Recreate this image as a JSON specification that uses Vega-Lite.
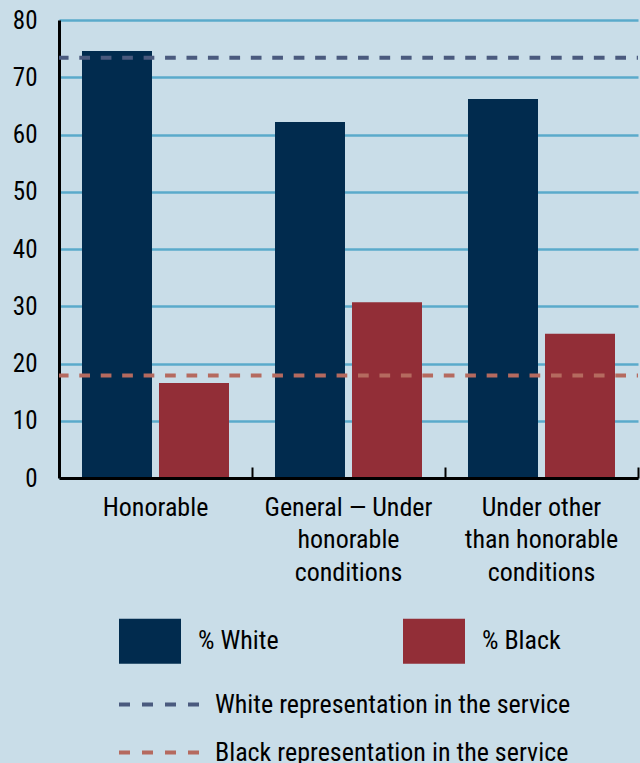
{
  "$schema": "https://vega.github.io/schema/vega-lite/v6.json",
  "width": 579,
  "height": 458,
  "autosize": {"type": "none"},
  "padding": {"left": 59, "top": 20, "right": 2, "bottom": 285},
  "background": "#c9dde8",
  "config": {
    "view": {"stroke": null},
    "font": "Roboto Condensed, Liberation Sans Narrow, DejaVu Sans Condensed, sans-serif"
  },
  "layer": [
    {
      "data": {
        "values": [
          {"type": "Honorable", "race": "% White", "pct": 74.6},
          {"type": "Honorable", "race": "% Black", "pct": 16.6},
          {"type": "General — Under honorable conditions", "race": "% White", "pct": 62.2},
          {"type": "General — Under honorable conditions", "race": "% Black", "pct": 30.7},
          {"type": "Under other than honorable conditions", "race": "% White", "pct": 66.2},
          {"type": "Under other than honorable conditions", "race": "% Black", "pct": 25.2}
        ]
      },
      "mark": {"type": "bar"},
      "encoding": {
        "x": {
          "field": "type",
          "type": "nominal",
          "sort": ["Honorable", "General — Under honorable conditions", "Under other than honorable conditions"],
          "scale": {"paddingInner": 0, "paddingOuter": 0},
          "axis": {
            "title": null,
            "zindex": 1,
            "domain": true,
            "domainColor": "#000000",
            "domainWidth": 3,
            "ticks": true,
            "bandPosition": 1,
            "tickSize": -11,
            "tickWidth": 2,
            "tickColor": "#000000",
            "labelAngle": 0,
            "labelFontSize": 26,
            "labelColor": "#000000",
            "labelLineHeight": 32.5,
            "labelPadding": 27,
            "labelLimit": 400,
            "labelExpr": "datum.value == 'Honorable' ? 'Honorable' : datum.value == 'General — Under honorable conditions' ? ['General — Under', 'honorable', 'conditions'] : ['Under other', 'than honorable', 'conditions']"
          }
        },
        "xOffset": {
          "field": "race",
          "type": "nominal",
          "sort": ["% White", "% Black"],
          "scale": {"paddingInner": 0.0909, "paddingOuter": 0.2987}
        },
        "y": {
          "field": "pct",
          "type": "quantitative",
          "scale": {"domain": [0, 80], "nice": false},
          "axis": {
            "title": null,
            "zindex": 0,
            "values": [0, 10, 20, 30, 40, 50, 60, 70, 80],
            "domain": true,
            "domainColor": "#000000",
            "domainWidth": 3,
            "ticks": false,
            "grid": true,
            "gridColor": "#5aaacb",
            "gridWidth": 2.5,
            "labelFontSize": 25,
            "labelColor": "#000000",
            "labelPadding": 22
          }
        },
        "color": {
          "field": "race",
          "type": "nominal",
          "scale": {"domain": ["% White", "% Black"], "range": ["#012b4e", "#922e37"]},
          "legend": {
            "orient": "none",
            "legendX": 60,
            "legendY": 590,
            "direction": "horizontal",
            "columns": 2,
            "columnPadding": 124,
            "title": null,
            "padding": 0,
            "symbolType": "M-1,-0.726H1V0.726H-1Z",
            "symbolSize": 3844,
            "symbolStrokeWidth": 0,
            "symbolOpacity": 1,
            "labelFontSize": 26,
            "labelOffset": 17,
            "labelLimit": 500,
            "labelColor": "#000000"
          }
        }
      }
    },
    {
      "data": {
        "values": [
          {"series": "White representation in the service", "pct": 73.4},
          {"series": "Black representation in the service", "pct": 17.9}
        ]
      },
      "mark": {"type": "rule", "strokeWidth": 4, "strokeDash": [10.7, 10.74], "strokeDashOffset": 9.44},
      "encoding": {
        "y": {"field": "pct", "type": "quantitative"},
        "stroke": {
          "field": "series",
          "type": "nominal",
          "scale": {
            "domain": ["White representation in the service", "Black representation in the service"],
            "range": ["#4a5a7e", "#b56a5f"]
          },
          "legend": {
            "orient": "none",
            "legendX": 87,
            "legendY": 671.5,
            "direction": "vertical",
            "title": null,
            "padding": 0,
            "symbolType": "M-5,0H5",
            "symbolSize": 256,
            "symbolStrokeWidth": 4,
            "symbolDash": [11, 12],
            "rowPadding": 22,
            "labelFontSize": 26,
            "labelOffset": 43,
            "labelLimit": 500,
            "labelColor": "#000000"
          }
        }
      }
    }
  ]
}
